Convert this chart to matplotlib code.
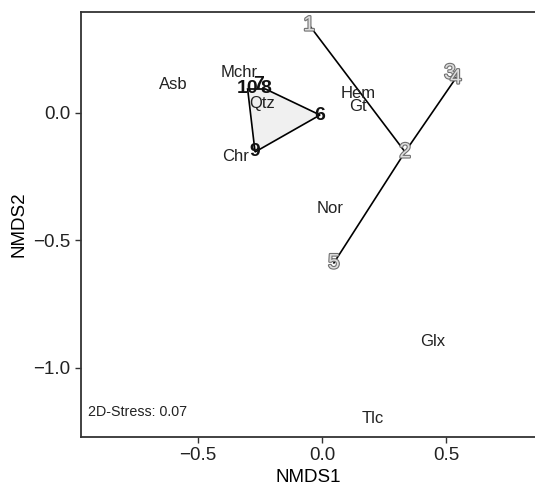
import matplotlib.pyplot as plt
import matplotlib.patheffects as pe
import numpy as np

plt.rcParams["font.family"] = ["Liberation Sans", "DejaVu Sans"]

# site scores (labels drawn at the point positions)
site_names = ["1", "2", "3", "4", "5", "6", "7", "8", "9", "10"]
site_x = [-0.052, 0.335, 0.516, 0.540, 0.048, -0.008, -0.254, -0.228, -0.270, -0.300]
site_y = [0.345, -0.153, 0.157, 0.137, -0.588, -0.008, 0.110, 0.094, -0.153, 0.094]
group_a = ["1", "2", "3", "4", "5"]
group_b = ["6", "7", "8", "9", "10"]

# spider lines of group A and hull of group B
spider = [("2", "1"), ("2", "4"), ("2", "5")]
hull_b = ["10", "8", "6", "9"]

# species scores
species = ["Asb", "Mchr", "Qtz", "Chr", "Hem", "Gt", "Nor", "Glx", "Tlc"]
sp_x = [-0.601, -0.335, -0.242, -0.347, 0.145, 0.145, 0.032, 0.448, 0.206]
sp_y = [0.110, 0.157, 0.039, -0.169, 0.075, 0.024, -0.373, -0.898, -1.200]

stress = 0.07

pos = {n: (x, y) for n, x, y in zip(site_names, site_x, site_y)}

fig = plt.figure(figsize=(5.35, 4.88), dpi=100)
ax = fig.add_axes([0.1514, 0.1045, 0.8486, 0.8709])

hx = [pos[n][0] for n in hull_b]
hy = [pos[n][1] for n in hull_b]
ax.fill(hx, hy, facecolor="#f0f0f0", edgecolor="black", linewidth=1.2, zorder=1)

for a, b in spider:
    ax.plot([pos[a][0], pos[b][0]], [pos[a][1], pos[b][1]], color="black", lw=1.2, zorder=1)

for n in group_a:
    ax.text(pos[n][0], pos[n][1], n, ha="center", va="center", fontsize=15,
            color="#dedede", zorder=3,
            path_effects=[pe.withStroke(linewidth=1.6, foreground="#707070")])

for n in group_b:
    ax.text(pos[n][0], pos[n][1], n, ha="center", va="center", fontsize=14,
            fontweight="bold", color="#111111", zorder=3)

for s, x, y in zip(species, sp_x, sp_y):
    ax.text(x, y, s, ha="center", va="center", fontsize=12, color="#222222", zorder=2)

ax.text(0.015, 0.06, "2D-Stress: {:.2f}".format(stress), transform=ax.transAxes,
        fontsize=10.3, color="#222222", ha="left", va="center")

ax.set_xlim(-0.972, 0.859)
ax.set_ylim(-1.271, 0.396)
ax.set_xticks([-0.5, 0.0, 0.5])
ax.set_yticks([-1.0, -0.5, 0.0])
ax.set_xlabel("NMDS1", fontsize=13.5, labelpad=3)
ax.set_ylabel("NMDS2", fontsize=13.5)
ax.tick_params(labelsize=13.5, length=4, width=1, color="#333333", labelcolor="#222222")
for side in ["left", "bottom", "top"]:
    ax.spines[side].set_color("#333333")
    ax.spines[side].set_linewidth(1.3)
ax.spines["right"].set_visible(False)

fig.savefig("out.png", dpi=100)
